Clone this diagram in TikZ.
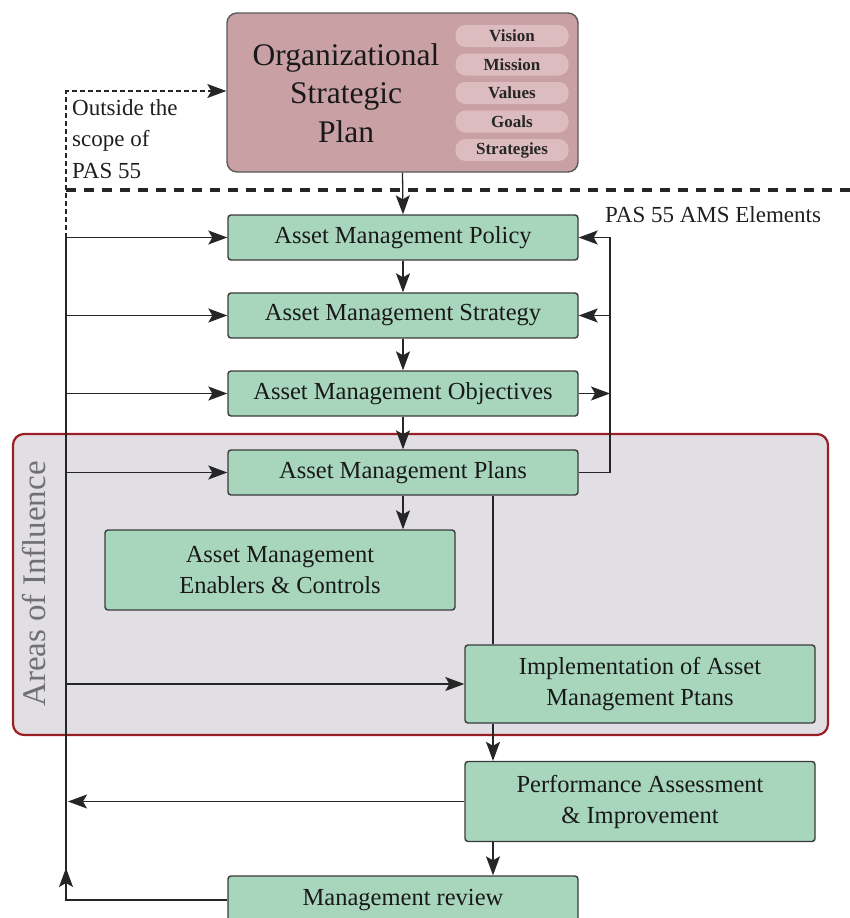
\documentclass[tikz,border=0pt]{standalone}
\usepackage{fontspec}
\setmainfont{Liberation Serif}
\usetikzlibrary{arrows.meta,calc}
\definecolor{boxgreen}{HTML}{A7D6BC}
\definecolor{planrose}{HTML}{C9A1A5}
\definecolor{pillrose}{HTML}{DDBCC0}
\definecolor{zonefill}{HTML}{E2DFE4}
\definecolor{zoneedge}{HTML}{9A1F25}
\definecolor{edgegrey}{HTML}{3A3A3A}
\definecolor{labelgrey}{HTML}{707070}
\tikzset{
  elem/.style={draw=edgegrey, line width=1.4pt, fill=boxgreen, rounded corners=3pt,
    minimum width=350pt, minimum height=45pt, align=center, text=black!90,
    font=\fontsize{24.5}{31}\selectfont, inner sep=0pt},
  pill/.style={fill=pillrose, rounded corners=10pt, minimum width=113pt,
    minimum height=22pt, inner sep=0pt, font=\fontsize{17}{19}\selectfont\bfseries,
    text=black!85},
  link/.style={draw=black!85, line width=1.3pt},
  arr/.style={link, -{Stealth[length=19pt,width=14pt,inset=4pt]}},
  note/.style={font=\fontsize{23}{31.5}\selectfont, text=black!88, inner sep=0pt}
}
\begin{document}
\begin{tikzpicture}[x=1pt,y=-1pt]
\useasboundingbox (0,0) rectangle (850,918);

% zone of influence behind the lower boxes
\node[draw=zoneedge, line width=2.2pt, fill=zonefill, rounded corners=11pt,
      minimum width=815pt, minimum height=301pt, inner sep=0pt] (zone) at (420.5,584.5) {};
\node[rotate=90, font=\fontsize{33}{36}\selectfont, text=labelgrey, inner sep=0pt]
      (zonelabel) at (34,584) {Areas of Influence};

% organisational plan with its five components
\node[draw=black!65, line width=1.4pt, fill=planrose, rounded corners=10pt,
      minimum width=351pt, minimum height=159pt, inner sep=0pt] (org) at (402.5,92.5) {};
\node[anchor=north, align=center, inner sep=0pt, text=black!90,
      font=\fontsize{31.5}{38.5}\selectfont] (orgtext) at (346,43)
      {Organizational\\Strategic\\Plan};
\node[pill] (vision)     at (512,36)  {Vision};
\node[pill] (mission)    at (512,64.5)  {Mission};
\node[pill] (values)     at (512,93)  {Values};
\node[pill] (goals)      at (512,121.5) {Goals};
\node[pill] (strategies) at (512,150) {Strategies};

% PAS 55 elements
\node[elem] (policy)     at (403,237.5) {Asset Management Policy};
\node[elem] (strategy)   at (403,315.5) {Asset Management Strategy};
\node[elem] (objectives) at (403,393.5) {Asset Management Objectives};
\node[elem] (plans)      at (403,472.5) {Asset Management Plans};
\node[elem, minimum height=80pt] (enablers) at (280,570)
      {Asset Management\\Enablers \& Controls};
\node[elem, minimum height=78pt] (impl) at (640,684)
      {Implementation of Asset\\Management Ptans};
\node[elem, minimum height=80pt] (perf) at (640,801.5)
      {Performance Assessment\\\& Improvement};
\node[elem, minimum height=48pt] (review) at (403,900) {Management review};

% scope labels
\node[note, anchor=north west, align=left] (outside) at (72,99)
      {Outside the\\scope of\\PAS 55};
\node[note, anchor=base west] (ams) at (605,222) {PAS 55 AMS Elements};

% guide lines
\coordinate (ll) at (66,0);
\coordinate (rl) at (610,0);
\coordinate (sepL) at (66,190);
\coordinate (sepR) at (852,190);
\draw[line width=4pt, black!85, dash pattern=on 10pt off 8pt] (sepL) -- (sepR);

% main downward chain
\draw[arr] (org.south) -- (policy.north);
\draw[arr] (policy.south) -- (strategy.north);
\draw[arr] (strategy.south) -- (objectives.north);
\draw[arr] (objectives.south) -- (plans.north);
\draw[arr] (plans.south) -- (plans.south |- enablers.north);
\draw[link] ([xshift=90pt]plans.south) -- ([xshift=90pt]plans.south |- impl.north);
\draw[arr] ([xshift=-147pt]impl.south) -- ([xshift=-147pt]perf.north);
\draw[arr] ([xshift=-147pt]perf.south) -- ([xshift=-147pt]perf.south |- review.north);

% right-hand loop from plans back to policy and strategy
\draw[arr] (plans.east) -| (rl |- policy.east) -- (policy.east);
\draw[arr] (rl |- strategy.east) -- (strategy.east);
\draw[arr] (objectives.east) -- (rl |- objectives.east);

% left-hand feedback from the review
\draw[link] (review.west) -| (ll |- policy.west);
\draw[arr] (ll |- review.west) -- ([yshift=32pt]ll |- review.west);
\draw[arr] (perf.west) -- ([xshift=2pt]ll |- perf.west);
\draw[arr] (ll |- policy.west) -- (policy.west);
\draw[arr] (ll |- strategy.west) -- (strategy.west);
\draw[arr] (ll |- objectives.west) -- (objectives.west);
\draw[arr] (ll |- plans.west) -- (plans.west);
\draw[arr] (ll |- impl.west) -- (impl.west);
\draw[arr, dash pattern=on 5pt off 3pt] (ll |- policy.west) |- ([yshift=1.5pt]org.west);
\end{tikzpicture}
\end{document}
